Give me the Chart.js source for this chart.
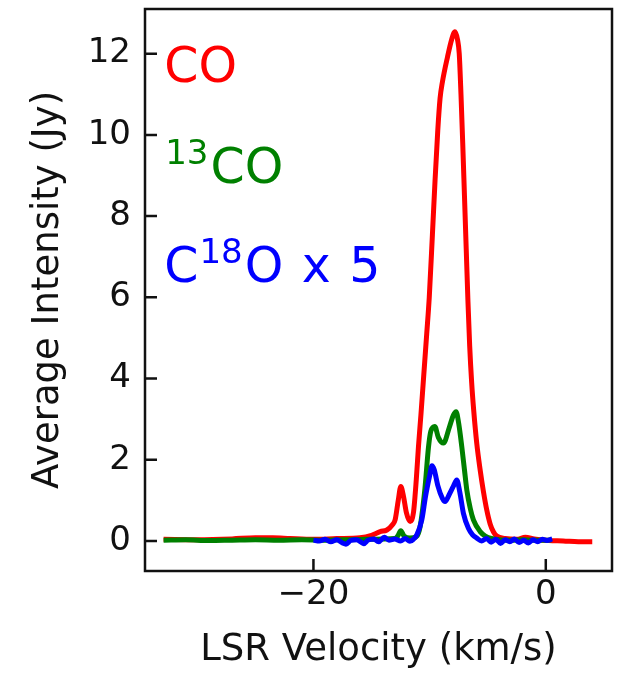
<!DOCTYPE html>
<html>
<head>
<meta charset="utf-8">
<script src="https://cdn.jsdelivr.net/npm/chart.js@4.4.0/dist/chart.umd.min.js"></script>
<style>
  body { margin: 0; background: #fff; }
  canvas { display: block; }
</style>
</head>
<body>
<canvas id="spectrum" width="620" height="675"></canvas>
<script>
// CO spectrum
const coVel = [-32.9, -30, -27, -25, -23.5, -22, -20, -18, -16, -15, -14.26, -13.68, -13.2, -12.97, -12.7, -12.48, -12.25, -12.0, -11.68, -11.39, -11.15, -10.96, -10.75, -10.5, -10.25, -10.03, -9.76, -9.53, -9.3, -9.1, -8.9, -8.46, -8.1, -7.82, -7.6, -7.45, -7.3, -7.15, -7.0, -6.85, -6.7, -6.55, -6.38, -6.2, -5.94, -5.65, -5.37, -5.08, -4.79, -4.5, -4.22, -3.5, -2.5, -1.76, -1.0, 0.27, 1.5, 2.8, 4.0];
const coFlux = [0.04, 0.03, 0.05, 0.08, 0.08, 0.06, 0.04, 0.06, 0.08, 0.14, 0.23, 0.27, 0.4, 0.52, 1.0, 1.34, 1.1, 0.7, 0.48, 0.7, 1.5, 2.32, 3.1, 4.1, 5.1, 6.0, 7.54, 8.89, 10.1, 10.9, 11.3, 11.92, 12.35, 12.54, 12.35, 12.0, 11.0, 9.8, 8.5, 7.2, 5.9, 4.8, 3.9, 3.2, 2.4, 1.75, 1.22, 0.76, 0.42, 0.22, 0.12, 0.06, 0.04, 0.09, 0.05, 0.01, 0.0, -0.02, -0.02];

// 13CO spectrum
const co13Vel = [-32.9, -31, -29, -27, -25, -23, -21, -19, -17, -15.5, -14, -13, -12.75, -12.48, -12.2, -11.7, -11.1, -10.82, -10.4, -10.1, -9.9, -9.55, -9.25, -8.81, -8.3, -7.95, -7.72, -7.5, -7.23, -7.0, -6.8, -6.5, -6.23, -5.65, -5.2, -4.0, -3.0, -2.0, -1.0, 0.0, 0.5];
const co13Flux = [0.02, 0.03, 0.01, 0.02, 0.03, 0.02, 0.03, 0.02, 0.03, 0.04, 0.05, 0.06, 0.12, 0.25, 0.12, 0.07, 0.12, 0.35, 1.3, 2.3, 2.7, 2.82, 2.55, 2.41, 2.8, 3.1, 3.18, 2.9, 2.32, 1.75, 1.26, 0.8, 0.52, 0.23, 0.12, 0.03, 0.02, 0.03, 0.02, 0.02, 0.03];

// C18O spectrum, already multiplied by 5
const c18oVel = [-20, -19.5, -19, -18.5, -18, -17.5, -17.2, -16.8, -16.3, -15.9, -15.67, -15.3, -14.8, -14.4, -13.9, -13.5, -13, -12.5, -12.1, -11.7, -11.4, -11.1, -10.67, -10.35, -10.0, -9.8, -9.6, -9.3, -8.9, -8.67, -8.3, -7.95, -7.66, -7.4, -7.09, -6.66, -6.3, -5.94, -5.53, -5.1, -4.7, -4.3, -3.9, -3.5, -3.1, -2.7, -2.3, -1.9, -1.5, -1.1, -0.7, -0.3, 0.1, 0.55];
const c18oFlux = [0.02, 0.0, 0.04, -0.02, 0.03, -0.05, -0.08, 0.01, 0.03, -0.03, -0.07, 0.02, 0.05, -0.02, 0.09, 0.02, 0.05, 0.0, 0.06, -0.01, 0.04, 0.15, 0.52, 1.1, 1.6, 1.85, 1.75, 1.37, 1.05, 0.97, 1.15, 1.35, 1.5, 1.2, 0.68, 0.31, 0.15, 0.07, 0.0, 0.06, -0.03, 0.04, -0.06, 0.03, -0.02, 0.05, -0.04, 0.02, -0.05, 0.03, -0.02, 0.04, 0.01, 0.05];

const xTicks = [-20, 0];
const yTicks = [0, 2, 4, 6, 8, 10, 12];

// line labels: text before the superscript, superscript, text after, y position
const lineLabels = [
  { pre: 'CO', sup: '', post: '', y: 11.3, color: '#ff0000' },
  { pre: '', sup: '13', post: 'CO', y: 8.81, color: '#008000' },
  { pre: 'C', sup: '18', post: 'O x 5', y: 6.38, color: '#0000ff' }
];
const labelX = -32.85;

const FONT = '"DejaVu Sans", sans-serif';
const INK = '#111';

const toPoints = (xs, ys) => xs.map((x, i) => ({ x: x, y: ys[i] }));

// frame, inward tick marks and line labels
const framePlugin = {
  id: 'frame',
  afterDatasetsDraw(chart) {
    const { ctx, chartArea: a, scales } = chart;
    ctx.save();
    ctx.strokeStyle = INK;
    ctx.lineWidth = 2.5;
    ctx.strokeRect(a.left, a.top, a.right - a.left, a.bottom - a.top);
    ctx.beginPath();
    yTicks.forEach(v => {
      const py = scales.y.getPixelForValue(v);
      ctx.moveTo(a.left, py);
      ctx.lineTo(a.left + 12, py);
    });
    xTicks.forEach(v => {
      const px = scales.x.getPixelForValue(v);
      ctx.moveTo(px, a.bottom);
      ctx.lineTo(px, a.bottom - 12);
    });
    ctx.stroke();

    ctx.textBaseline = 'alphabetic';
    ctx.textAlign = 'left';
    ctx.wordSpacing = '3px';
    lineLabels.forEach(l => {
      let px = scales.x.getPixelForValue(labelX);
      const py = scales.y.getPixelForValue(l.y);
      ctx.fillStyle = l.color;
      ctx.font = '49px ' + FONT;
      ctx.fillText(l.pre, px, py);
      px += ctx.measureText(l.pre).width;
      if (l.sup) {
        ctx.font = '34px ' + FONT;
        ctx.fillText(l.sup, px + 1, py - 19);
        px += ctx.measureText(l.sup).width + 3;
      }
      ctx.font = '49px ' + FONT;
      ctx.fillText(l.post, px, py);
    });
    ctx.restore();
  }
};

new Chart(document.getElementById('spectrum'), {
  type: 'line',
  data: {
    datasets: [
      { label: 'CO', data: toPoints(coVel, coFlux), borderColor: '#ff0000', order: 3 },
      { label: '13CO', data: toPoints(co13Vel, co13Flux), borderColor: '#008000', order: 2 },
      { label: 'C18O x 5', data: toPoints(c18oVel, c18oFlux), borderColor: '#0000ff', order: 1 }
    ]
  },
  options: {
    responsive: false,
    animation: false,
    events: [],
    layout: { padding: { top: 9, right: 8, left: 0, bottom: 0 } },
    elements: {
      point: { radius: 0 },
      line: { borderWidth: 5, tension: 0.3, cubicInterpolationMode: 'monotone', fill: false }
    },
    plugins: { legend: { display: false }, tooltip: { enabled: false } },
    scales: {
      x: {
        type: 'linear',
        min: -34.5,
        max: 5.7,
        grid: { display: false, drawTicks: false },
        border: { display: false },
        afterBuildTicks: s => { s.ticks = xTicks.map(v => ({ value: v })); },
        afterFit: s => { s.height = 104; s.paddingLeft = 0; s.paddingRight = 0; },
        ticks: {
          padding: 7,
          color: INK,
          font: { family: FONT, size: 34, lineHeight: 1 },
          callback: v => (v < 0 ? '\u2212' + Math.abs(v) : String(v))
        },
        title: {
          display: true,
          text: 'LSR Velocity (km/s)',
          color: INK,
          font: { family: FONT, size: 37, lineHeight: 1 },
          padding: { bottom: 6, top: 0 }
        }
      },
      y: {
        min: -0.74,
        max: 13.1,
        grid: { display: false, drawTicks: false },
        border: { display: false },
        afterBuildTicks: s => { s.ticks = yTicks.map(v => ({ value: v })); },
        afterFit: s => { s.width = 145; s.paddingTop = 0; s.paddingBottom = 0; },
        ticks: {
          padding: 14,
          color: INK,
          font: { family: FONT, size: 34, lineHeight: 1 }
        },
        title: {
          display: true,
          text: 'Average Intensity (Jy)',
          color: INK,
          font: { family: FONT, size: 37, lineHeight: 1 },
          padding: { top: 30, bottom: 0 }
        }
      }
    }
  },
  plugins: [framePlugin]
});
</script>
</body>
</html>
